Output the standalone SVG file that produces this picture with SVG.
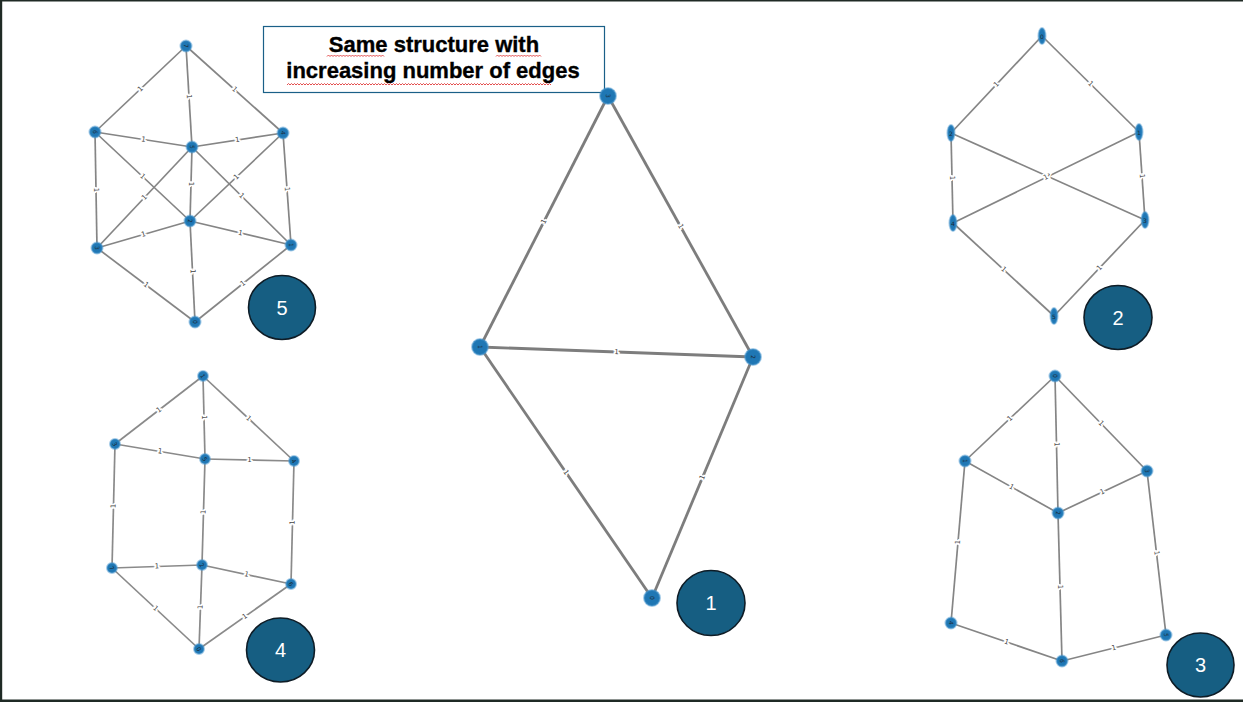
<svg xmlns="http://www.w3.org/2000/svg" width="1243" height="702" viewBox="0 0 1243 702">
<defs>
<style>
.e{stroke:#858585;stroke-width:1.7;fill:none}
.e1{stroke:#7d7d7d;stroke-width:2.8;fill:none}
.e4{stroke:#8a8a8a;stroke-width:1.7;fill:none}
.n{fill:#1f77b4;stroke:#4a97cf;stroke-opacity:.5;stroke-width:2}
.nl{font-family:"DejaVu Sans",sans-serif;font-size:6px;fill:#1a2a36;text-anchor:middle;dominant-baseline:central}
.el{font-family:"DejaVu Sans",sans-serif;font-size:7px;fill:#444;text-anchor:middle;dominant-baseline:central;stroke:#fff;stroke-width:3;paint-order:stroke}
.badge{fill:#165e82;stroke:#0e1c26;stroke-width:1.6}
.bt{font-family:"Liberation Sans",Arial,sans-serif;font-size:20px;fill:#fff;text-anchor:middle;dominant-baseline:central}
.title{font-family:"Liberation Sans",Arial,sans-serif;font-weight:bold;font-size:22px;fill:#000;text-anchor:middle;stroke:#000;stroke-width:0.35}
.sq{stroke:#e03a3a;stroke-width:0.9;fill:none}
</style>
</defs>
<rect width="1243" height="702" fill="#fff"/>
<rect x="0" y="0" width="2.2" height="702" fill="#1f2a25"/>
<rect x="0" y="0" width="1243" height="1.5" fill="#1f2a25"/>
<rect x="0" y="699.5" width="1243" height="2.5" fill="#1f2a25"/>

<g id="title">
<rect x="263.5" y="26.5" width="341" height="66" fill="#fff" stroke="#1a6088" stroke-width="1.2"/>
<text class="title" x="434" y="52">Same structure with</text>
<text class="title" x="433" y="77.5">increasing number of edges</text>
<path class="sq" d="M327 56.5 l1.5 -1.5 l1.5 1.5 l1.5 -1.5 l1.5 1.5 l1.5 -1.5 l1.5 1.5 l1.5 -1.5 l1.5 1.5 l1.5 -1.5 l1.5 1.5 l1.5 -1.5 l1.5 1.5 l1.5 -1.5 l1.5 1.5 l1.5 -1.5 l1.5 1.5 l1.5 -1.5 l1.5 1.5 l1.5 -1.5 l1.5 1.5 l1.5 -1.5 l1.5 1.5 l1.5 -1.5 l1.5 1.5 l1.5 -1.5 l1.5 1.5 l1.5 -1.5 l1.5 1.5 l1.5 -1.5 l1.5 1.5 l1.5 -1.5 l1.5 1.5 l1.5 -1.5 l1.5 1.5 l1.5 -1.5 l1.5 1.5 l1.5 -1.5 l1.5 1.5"/>
<path class="sq" d="M496 56.5 l1.5 -1.5 l1.5 1.5 l1.5 -1.5 l1.5 1.5 l1.5 -1.5 l1.5 1.5 l1.5 -1.5 l1.5 1.5 l1.5 -1.5 l1.5 1.5 l1.5 -1.5 l1.5 1.5 l1.5 -1.5 l1.5 1.5 l1.5 -1.5 l1.5 1.5 l1.5 -1.5 l1.5 1.5 l1.5 -1.5 l1.5 1.5 l1.5 -1.5 l1.5 1.5 l1.5 -1.5 l1.5 1.5 l1.5 -1.5 l1.5 1.5 l1.5 -1.5 l1.5 1.5 l1.5 -1.5 l1.5 1.5"/>
<path class="sq" d="M287 85 l1.5 -1.5 l1.5 1.5 l1.5 -1.5 l1.5 1.5 l1.5 -1.5 l1.5 1.5 l1.5 -1.5 l1.5 1.5 l1.5 -1.5 l1.5 1.5 l1.5 -1.5 l1.5 1.5 l1.5 -1.5 l1.5 1.5 l1.5 -1.5 l1.5 1.5 l1.5 -1.5 l1.5 1.5 l1.5 -1.5 l1.5 1.5 l1.5 -1.5 l1.5 1.5 l1.5 -1.5 l1.5 1.5 l1.5 -1.5 l1.5 1.5 l1.5 -1.5 l1.5 1.5 l1.5 -1.5 l1.5 1.5 l1.5 -1.5 l1.5 1.5 l1.5 -1.5 l1.5 1.5 l1.5 -1.5 l1.5 1.5 l1.5 -1.5 l1.5 1.5 l1.5 -1.5 l1.5 1.5 l1.5 -1.5 l1.5 1.5 l1.5 -1.5 l1.5 1.5 l1.5 -1.5 l1.5 1.5 l1.5 -1.5 l1.5 1.5 l1.5 -1.5 l1.5 1.5 l1.5 -1.5 l1.5 1.5 l1.5 -1.5 l1.5 1.5 l1.5 -1.5 l1.5 1.5 l1.5 -1.5 l1.5 1.5 l1.5 -1.5 l1.5 1.5 l1.5 -1.5 l1.5 1.5 l1.5 -1.5 l1.5 1.5 l1.5 -1.5 l1.5 1.5 l1.5 -1.5 l1.5 1.5 l1.5 -1.5 l1.5 1.5 l1.5 -1.5 l1.5 1.5 l1.5 -1.5 l1.5 1.5 l1.5 -1.5 l1.5 1.5 l1.5 -1.5 l1.5 1.5 l1.5 -1.5 l1.5 1.5 l1.5 -1.5 l1.5 1.5 l1.5 -1.5 l1.5 1.5 l1.5 -1.5 l1.5 1.5 l1.5 -1.5 l1.5 1.5 l1.5 -1.5 l1.5 1.5 l1.5 -1.5 l1.5 1.5 l1.5 -1.5 l1.5 1.5 l1.5 -1.5 l1.5 1.5 l1.5 -1.5 l1.5 1.5 l1.5 -1.5 l1.5 1.5 l1.5 -1.5 l1.5 1.5 l1.5 -1.5 l1.5 1.5 l1.5 -1.5 l1.5 1.5 l1.5 -1.5 l1.5 1.5 l1.5 -1.5 l1.5 1.5 l1.5 -1.5 l1.5 1.5 l1.5 -1.5 l1.5 1.5 l1.5 -1.5 l1.5 1.5 l1.5 -1.5 l1.5 1.5 l1.5 -1.5 l1.5 1.5 l1.5 -1.5 l1.5 1.5 l1.5 -1.5 l1.5 1.5 l1.5 -1.5 l1.5 1.5 l1.5 -1.5 l1.5 1.5 l1.5 -1.5 l1.5 1.5 l1.5 -1.5 l1.5 1.5 l1.5 -1.5 l1.5 1.5 l1.5 -1.5 l1.5 1.5 l1.5 -1.5 l1.5 1.5 l1.5 -1.5 l1.5 1.5 l1.5 -1.5 l1.5 1.5 l1.5 -1.5 l1.5 1.5 l1.5 -1.5 l1.5 1.5 l1.5 -1.5 l1.5 1.5 l1.5 -1.5 l1.5 1.5 l1.5 -1.5 l1.5 1.5 l1.5 -1.5 l1.5 1.5 l1.5 -1.5 l1.5 1.5 l1.5 -1.5 l1.5 1.5 l1.5 -1.5 l1.5 1.5 l1.5 -1.5 l1.5 1.5 l1.5 -1.5 l1.5 1.5 l1.5 -1.5 l1.5 1.5 l1.5 -1.5 l1.5 1.5 l1.5 -1.5 l1.5 1.5 l1.5 -1.5 l1.5 1.5 l1.5 -1.5 l1.5 1.5 l1.5 -1.5 l1.5 1.5"/>
</g>

<g id="connectors">
<g id="edges-g5" class="e">
<line x1="186" y1="46" x2="95" y2="132"/><line x1="186" y1="46" x2="283" y2="133"/><line x1="186" y1="46" x2="192" y2="147"/>
<line x1="95" y1="132" x2="192" y2="147"/><line x1="192" y1="147" x2="283" y2="133"/>
<line x1="95" y1="132" x2="97" y2="248"/><line x1="283" y1="133" x2="291" y2="245"/>
<line x1="95" y1="132" x2="190" y2="221"/><line x1="192" y1="147" x2="97" y2="248"/>
<line x1="192" y1="147" x2="291" y2="245"/><line x1="283" y1="133" x2="190" y2="221"/>
<line x1="192" y1="147" x2="190" y2="221"/><line x1="190" y1="221" x2="97" y2="248"/><line x1="190" y1="221" x2="291" y2="245"/>
<line x1="97" y1="248" x2="195" y2="322"/><line x1="291" y1="245" x2="195" y2="322"/><line x1="190" y1="221" x2="195" y2="322"/>
</g>
<g id="edges-g1" class="e1">
<line x1="608" y1="96" x2="480" y2="347"/><line x1="608" y1="96" x2="753" y2="357"/>
<line x1="480" y1="347" x2="753" y2="357"/><line x1="480" y1="347" x2="652" y2="598"/><line x1="753" y1="357" x2="652" y2="598"/>
</g>
<g id="edges-g2" class="e">
<line x1="1042" y1="36" x2="951" y2="133"/><line x1="1042" y1="36" x2="1139" y2="132"/>
<line x1="951" y1="133" x2="953" y2="223"/><line x1="1139" y1="132" x2="1145" y2="220"/>
<line x1="951" y1="133" x2="1145" y2="220"/><line x1="1139" y1="132" x2="953" y2="223"/>
<line x1="953" y1="223" x2="1054" y2="316"/><line x1="1145" y1="220" x2="1054" y2="316"/>
</g>
<g id="edges-g3" class="e">
<line x1="1055" y1="376" x2="965" y2="461"/><line x1="1055" y1="376" x2="1058" y2="513"/><line x1="1055" y1="376" x2="1147" y2="471"/>
<line x1="965" y1="461" x2="1058" y2="513"/><line x1="1058" y1="513" x2="1147" y2="471"/>
<line x1="965" y1="461" x2="951" y2="623"/><line x1="1058" y1="513" x2="1062" y2="661"/><line x1="1147" y1="471" x2="1166" y2="635"/>
<line x1="951" y1="623" x2="1062" y2="661"/><line x1="1062" y1="661" x2="1166" y2="635"/>
</g>
<g id="edges-g4" class="e4">
<line x1="203" y1="376" x2="115" y2="444"/><line x1="203" y1="376" x2="205" y2="459"/><line x1="203" y1="376" x2="294" y2="461"/>
<line x1="115" y1="444" x2="205" y2="459"/><line x1="205" y1="459" x2="294" y2="461"/>
<line x1="115" y1="444" x2="112" y2="568"/><line x1="205" y1="459" x2="202" y2="565"/><line x1="294" y1="461" x2="291" y2="584"/>
<line x1="112" y1="568" x2="202" y2="565"/><line x1="202" y1="565" x2="291" y2="584"/>
<line x1="112" y1="568" x2="199" y2="649"/><line x1="202" y1="565" x2="199" y2="649"/><line x1="291" y1="584" x2="199" y2="649"/>
</g>
<g id="edge-labels">
<text class="el" transform="translate(140.5 89) rotate(-43.4)">1</text>
<text class="el" transform="translate(234.5 89.5) rotate(41.9)">1</text>
<text class="el" transform="translate(189 96.5) rotate(86.6)">1</text>
<text class="el" transform="translate(143.5 139.5) rotate(8.8)">1</text>
<text class="el" transform="translate(237.5 140) rotate(-8.7)">1</text>
<text class="el" transform="translate(96 190) rotate(89)">1</text>
<text class="el" transform="translate(287 189) rotate(85.9)">1</text>
<text class="el" transform="translate(142.5 176.5) rotate(43.1)">1</text>
<text class="el" transform="translate(144.5 197.5) rotate(-46.8)">1</text>
<text class="el" transform="translate(241.5 196) rotate(44.7)">1</text>
<text class="el" transform="translate(236.5 177) rotate(-43.4)">1</text>
<text class="el" transform="translate(191 184) rotate(90)">1</text>
<text class="el" transform="translate(143.5 234.5) rotate(-16.2)">1</text>
<text class="el" transform="translate(240.5 233) rotate(13.4)">1</text>
<text class="el" transform="translate(146 285) rotate(37.1)">1</text>
<text class="el" transform="translate(243 283.5) rotate(-38.7)">1</text>
<text class="el" transform="translate(192.5 271.5) rotate(87.2)">1</text>
<text class="el" transform="translate(544 221.5) rotate(-63)">1</text>
<text class="el" transform="translate(680.5 226.5) rotate(60.9)">1</text>
<text class="el" transform="translate(616.5 352) rotate(2.1)">1</text>
<text class="el" transform="translate(566 472.5) rotate(55.6)">1</text>
<text class="el" transform="translate(702.5 477.5) rotate(-67.3)">1</text>
<text class="el" transform="translate(996.5 84.5) rotate(-46.8)">1</text>
<text class="el" transform="translate(1090.5 84) rotate(44.7)">1</text>
<text class="el" transform="translate(952 178) rotate(88.7)">1</text>
<text class="el" transform="translate(1142 176) rotate(86.1)">1</text>
<text class="el" transform="translate(1048 176.5) rotate(24.2)">1</text>
<text class="el" transform="translate(1046 177.5) rotate(-26.1)">1</text>
<text class="el" transform="translate(1003.5 269.5) rotate(42.6)">1</text>
<text class="el" transform="translate(1099.5 268) rotate(-46.5)">1</text>
<text class="el" transform="translate(1010 418.5) rotate(-43.4)">1</text>
<text class="el" transform="translate(1056.5 444.5) rotate(88.7)">1</text>
<text class="el" transform="translate(1101 423.5) rotate(45.9)">1</text>
<text class="el" transform="translate(1011.5 487) rotate(29.2)">1</text>
<text class="el" transform="translate(1102.5 492) rotate(-25.3)">1</text>
<text class="el" transform="translate(958 542) rotate(-85.1)">1</text>
<text class="el" transform="translate(1060 587) rotate(88.5)">1</text>
<text class="el" transform="translate(1156.5 553) rotate(83.4)">1</text>
<text class="el" transform="translate(1006.5 642) rotate(18.9)">1</text>
<text class="el" transform="translate(1114 648) rotate(-14)">1</text>
<text class="el" transform="translate(159 410) rotate(-37.7)">1</text>
<text class="el" transform="translate(204 417.5) rotate(88.6)">1</text>
<text class="el" transform="translate(248.5 418.5) rotate(43)">1</text>
<text class="el" transform="translate(160 451.5) rotate(9.5)">1</text>
<text class="el" transform="translate(249.5 460) rotate(1.3)">1</text>
<text class="el" transform="translate(113.5 506) rotate(-88.6)">1</text>
<text class="el" transform="translate(203.5 512) rotate(-88.4)">1</text>
<text class="el" transform="translate(292.5 522.5) rotate(-88.6)">1</text>
<text class="el" transform="translate(157 566.5) rotate(-1.9)">1</text>
<text class="el" transform="translate(246.5 574.5) rotate(12)">1</text>
<text class="el" transform="translate(155.5 608.5) rotate(43)">1</text>
<text class="el" transform="translate(200.5 607) rotate(-88)">1</text>
<text class="el" transform="translate(245 616.5) rotate(-35.2)">1</text>
</g>
</g>

<g id="g5-n7"><circle class="n" cx="186" cy="46" r="5.5"/><text class="nl" transform="translate(186 46) rotate(90)">7</text></g>
<g id="g5-n6"><circle class="n" cx="95" cy="132" r="5.5"/><text class="nl" transform="translate(95 132) rotate(90)">6</text></g>
<g id="g5-n4"><circle class="n" cx="283" cy="133" r="5.5"/><text class="nl" transform="translate(283 133) rotate(90)">4</text></g>
<g id="g5-n5"><circle class="n" cx="192" cy="147" r="5.5"/><text class="nl" transform="translate(192 147) rotate(90)">5</text></g>
<g id="g5-n2"><circle class="n" cx="190" cy="221" r="5.5"/><text class="nl" transform="translate(190 221) rotate(90)">2</text></g>
<g id="g5-n3"><circle class="n" cx="97" cy="248" r="5.5"/><text class="nl" transform="translate(97 248) rotate(90)">3</text></g>
<g id="g5-n1"><circle class="n" cx="291" cy="245" r="5.5"/><text class="nl" transform="translate(291 245) rotate(90)">1</text></g>
<g id="g5-n0"><circle class="n" cx="195" cy="322" r="5.5"/><text class="nl" transform="translate(195 322) rotate(90)">0</text></g>

<g id="g1-n3"><circle class="n" cx="608" cy="96" r="8"/><text class="nl" transform="translate(608 96) rotate(90)">3</text></g>
<g id="g1-n1"><circle class="n" cx="480" cy="347" r="8"/><text class="nl" transform="translate(480 347) rotate(90)">1</text></g>
<g id="g1-n2"><circle class="n" cx="753" cy="357" r="8"/><text class="nl" transform="translate(753 357) rotate(90)">2</text></g>
<g id="g1-n0"><circle class="n" cx="652" cy="598" r="8"/><text class="nl" transform="translate(652 598) rotate(90)">0</text></g>

<g id="g2-n0"><ellipse class="n" cx="1042" cy="36" rx="3.5" ry="8"/><text class="nl" x="1042" y="36">0</text></g>
<g id="g2-n2"><ellipse class="n" cx="951" cy="133" rx="3.5" ry="8"/><text class="nl" x="951" y="133">2</text></g>
<g id="g2-n1"><ellipse class="n" cx="1139" cy="132" rx="3.5" ry="8"/><text class="nl" x="1139" y="132">1</text></g>
<g id="g2-n4"><ellipse class="n" cx="953" cy="223" rx="3.5" ry="8"/><text class="nl" x="953" y="223">4</text></g>
<g id="g2-n3"><ellipse class="n" cx="1145" cy="220" rx="3.5" ry="8"/><text class="nl" x="1145" y="220">3</text></g>
<g id="g2-n5"><ellipse class="n" cx="1054" cy="316" rx="3.5" ry="8"/><text class="nl" x="1054" y="316">5</text></g>

<g id="g3-n0"><circle class="n" cx="1055" cy="376" r="5.5"/><text class="nl" transform="translate(1055 376) rotate(90)">0</text></g>
<g id="g3-n1"><circle class="n" cx="965" cy="461" r="5.5"/><text class="nl" transform="translate(965 461) rotate(90)">1</text></g>
<g id="g3-n3"><circle class="n" cx="1147" cy="471" r="5.5"/><text class="nl" transform="translate(1147 471) rotate(90)">3</text></g>
<g id="g3-n2"><circle class="n" cx="1058" cy="513" r="5.5"/><text class="nl" transform="translate(1058 513) rotate(90)">2</text></g>
<g id="g3-n4"><circle class="n" cx="951" cy="623" r="5.5"/><text class="nl" transform="translate(951 623) rotate(90)">4</text></g>
<g id="g3-n6"><circle class="n" cx="1062" cy="661" r="5.5"/><text class="nl" transform="translate(1062 661) rotate(90)">6</text></g>
<g id="g3-n5"><circle class="n" cx="1166" cy="635" r="5.5"/><text class="nl" transform="translate(1166 635) rotate(90)">5</text></g>

<g id="g4-n1"><circle class="n" cx="203" cy="376" r="5"/><text class="nl" transform="translate(203 376) rotate(60)">1</text></g>
<g id="g4-n3"><circle class="n" cx="115" cy="444" r="5"/><text class="nl" transform="translate(115 444) rotate(60)">3</text></g>
<g id="g4-n5"><circle class="n" cx="205" cy="459" r="5"/><text class="nl" transform="translate(205 459) rotate(60)">5</text></g>
<g id="g4-n4"><circle class="n" cx="294" cy="461" r="5"/><text class="nl" transform="translate(294 461) rotate(60)">4</text></g>
<g id="g4-n7"><circle class="n" cx="112" cy="568" r="5"/><text class="nl" transform="translate(112 568) rotate(60)">7</text></g>
<g id="g4-n2"><circle class="n" cx="202" cy="565" r="5"/><text class="nl" transform="translate(202 565) rotate(60)">2</text></g>
<g id="g4-n6"><circle class="n" cx="291" cy="584" r="5"/><text class="nl" transform="translate(291 584) rotate(60)">6</text></g>
<g id="g4-n0"><circle class="n" cx="199" cy="649" r="5"/><text class="nl" transform="translate(199 649) rotate(60)">0</text></g>

<g id="badge-5"><ellipse class="badge" cx="282" cy="307.5" rx="33.5" ry="32"/><text class="bt" x="282" y="308">5</text></g>
<g id="badge-1"><ellipse class="badge" cx="711" cy="603" rx="34" ry="32.5"/><text class="bt" x="711" y="603">1</text></g>
<g id="badge-2"><ellipse class="badge" cx="1118" cy="317.5" rx="34" ry="32"/><text class="bt" x="1118" y="318">2</text></g>
<g id="badge-3"><ellipse class="badge" cx="1200.5" cy="665" rx="33.5" ry="32"/><text class="bt" x="1200.5" y="665">3</text></g>
<g id="badge-4"><ellipse class="badge" cx="280.5" cy="650" rx="34" ry="32"/><text class="bt" x="280.5" y="650">4</text></g>
</svg>
